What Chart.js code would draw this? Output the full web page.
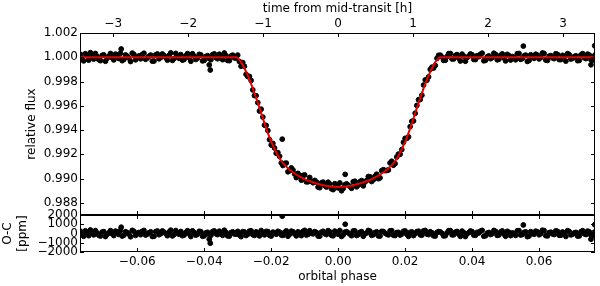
<!DOCTYPE html>
<html>
<head>
<meta charset="utf-8">
<script src="https://cdn.jsdelivr.net/npm/chart.js@4.4.0/dist/chart.umd.min.js"></script>
<style>
    html, body { margin: 0; padding: 0; background: #fff; }
    #wrap { position: relative; width: 600px; height: 286px; }
    #wrap canvas { position: absolute; left: 0; top: 0; }
</style>
</head>
<body>
<div id="wrap">
    <canvas id="lc" width="600" height="286"></canvas>
    <canvas id="oc" width="600" height="286"></canvas>
</div>
<script>
// tick labels
let hourTicks = [-3, -2, -1, 0, 1, 2, 3];
let phaseTicks = [-0.06, -0.04, -0.02, 0, 0.02, 0.04, 0.06];
let fluxTicks = [0.988, 0.990, 0.992, 0.994, 0.996, 0.998, 1.000, 1.002];
let residTicks = [-2000, -1000, 0, 1000, 2000];

// axis limits
let phaseRange = [-0.0771, 0.0767];
let hourRange = [-3.443, 3.426];
let fluxRange = [0.987, 1.002];
let residRange = [-2000, 2000];

// observed points, first run (orbital phase, relative flux, O-C in ppm)
let phase = [
    -0.077, -0.076, -0.075, -0.074, -0.073, -0.072, -0.071, -0.070, -0.069, -0.068,
    -0.067, -0.066, -0.065, -0.064, -0.063, -0.062, -0.061, -0.060, -0.059, -0.058,
    -0.057, -0.056, -0.055, -0.054, -0.053, -0.052, -0.051, -0.050, -0.049, -0.048,
    -0.047, -0.046, -0.045, -0.044, -0.043, -0.042, -0.041, -0.040, -0.039, -0.038,
    -0.037, -0.036, -0.035, -0.034, -0.033, -0.032, -0.031, -0.030, -0.0295, -0.029,
    -0.0285, -0.028, -0.0275, -0.027, -0.0265, -0.026, -0.0255, -0.025, -0.0245, -0.024,
    -0.0235, -0.023, -0.0225, -0.022, -0.0215, -0.021, -0.0205, -0.020, -0.0195, -0.019,
    -0.0185, -0.018, -0.017, -0.016, -0.015, -0.014, -0.013, -0.012, -0.011, -0.010,
    -0.009, -0.008, -0.007, -0.006, -0.005, -0.004, -0.003, -0.002, -0.001, 0.000,
    0.001, 0.002, 0.003, 0.004, 0.005, 0.006, 0.007, 0.008, 0.009, 0.010,
    0.011, 0.012, 0.013, 0.014, 0.015, 0.016, 0.017, 0.018, 0.0185, 0.019,
    0.0195, 0.020, 0.0205, 0.021, 0.0215, 0.022, 0.0225, 0.023, 0.0235, 0.024,
    0.0245, 0.025, 0.0255, 0.026, 0.0265, 0.027, 0.0275, 0.028, 0.0285, 0.029,
    0.0295, 0.030, 0.031, 0.032, 0.033, 0.034, 0.035, 0.036, 0.037, 0.038,
    0.039, 0.040, 0.041, 0.042, 0.043, 0.044, 0.045, 0.046, 0.047, 0.048,
    0.049, 0.050, 0.051, 0.052, 0.053, 0.054, 0.055, 0.056, 0.057, 0.058,
    0.059, 0.060, 0.061, 0.062, 0.063, 0.064, 0.065, 0.066, 0.067, 0.068,
    0.069, 0.070, 0.071, 0.072, 0.073, 0.074, 0.075, 0.076, 0.077
];
let flux = [
    1.00025, 0.99970, 1.00012, 1.00038, 0.99985, 1.00006, 0.99972, 1.00020, 0.99991, 1.00031,
    0.99978, 1.00015, 1.00033, 0.99982, 1.00009, 0.99965, 1.00024, 1.00002, 0.99987, 1.00033,
    0.99994, 1.00018, 0.99969, 1.00027, 0.99998, 1.00014, 0.99976, 1.00036, 0.99989, 1.00005,
    1.00022, 0.99983, 1.00030, 0.99967, 1.00008, 0.99994, 1.00019, 0.99975, 1.00013, 0.99980,
    1.00028, 0.99988, 1.00004, 1.00035, 0.99974, 1.00010, 0.99995, 1.00018, 0.99965, 0.99926,
    0.99956, 0.99926, 0.99859, 0.99841, 0.99842, 0.99809, 0.99731, 0.99684, 0.99683, 0.99626,
    0.99557, 0.99572, 0.99507, 0.99440, 0.99438, 0.99396, 0.99321, 0.99277, 0.99290, 0.99252,
    0.99209, 0.99214, 0.99129, 0.99125, 0.99056, 0.99088, 0.99038, 0.99043, 0.98987, 0.99030,
    0.98974, 0.98977, 0.98985, 0.98930, 0.98965, 0.98942, 0.98970, 0.98916, 0.98958, 0.98923,
    0.98900, 0.98949, 0.98945, 0.98920, 0.98978, 0.98946, 0.98984, 0.98971, 0.99017, 0.98976,
    0.99020, 0.98999, 0.99065, 0.99066, 0.99071, 0.99143, 0.99123, 0.99202, 0.99200, 0.99239,
    0.99299, 0.99332, 0.99331, 0.99344, 0.99428, 0.99472, 0.99475, 0.99539, 0.99603, 0.99650,
    0.99651, 0.99687, 0.99771, 0.99813, 0.99810, 0.99838, 0.99900, 0.99918, 0.99911, 0.99932,
    0.99991, 1.00016, 1.00002, 0.99976, 1.00030, 0.99986, 1.00015, 0.99993, 1.00026, 0.99967,
    1.00009, 1.00020, 0.99981, 1.00005, 1.00034, 0.99975, 1.00011, 0.99998, 1.00023, 0.99984,
    1.00028, 0.99970, 1.00013, 1.00006, 0.99979, 1.00031, 0.99990, 1.00018, 0.99973, 1.00002,
    1.00025, 0.99986, 1.00035, 0.99977, 1.00009, 0.99995, 1.00029, 0.99981, 1.00016, 0.99968,
    1.00021, 0.99992, 1.00012, 0.99974, 1.00030, 0.99989, 1.00018, 0.99976, 1.00027
];
let resid = [
    250, -300, 120, 380, -150, 60, -280, 200, -90, 310,
    -220, 150, 330, -180, 90, -350, 240, 20, -130, 330,
    -60, 180, -310, 270, -20, 140, -240, 360, -110, 50,
    220, -170, 300, -330, 80, -60, 190, -250, 130, -200,
    280, -120, 40, 350, -260, 100, -50, 230, -150, -340,
    200, 160, -220, -90, 260, 290, -120, -210, 180, 10,
    -260, 320, 90, -150, 230, 210, -190, -280, 150, 70,
    -80, 240, -160, 120, -300, 260, -40, 180, -230, 340,
    -100, 30, 200, -270, 150, -20, 310, -190, 260, -80,
    -320, 140, 60, -240, 280, -110, 190, -30, 330, -200,
    100, -260, 230, 40, -150, 300, -220, 120, -170, -60,
    240, 270, -90, -310, 130, 170, -230, -10, 200, 250,
    -140, -180, 280, 330, -60, -120, 190, 80, -250, -280,
    110, 210, 20, -240, 300, -140, 150, -70, 260, -330,
    90, 200, -190, 50, 340, -250, 110, -20, 230, -160,
    280, -300, 130, 60, -210, 310, -100, 180, -270, 20,
    250, -140, 350, -230, 90, -50, 290, -190, 160, -320,
    210, -80, 120, -260, 300, -110, 180, -240, 270
];

// observed points, second run (between the first run's points)
let phase2 = [
    -0.0765, -0.0755, -0.0745, -0.0735, -0.0725, -0.0715, -0.0705, -0.0695, -0.0685, -0.0675,
    -0.0665, -0.0655, -0.0645, -0.0635, -0.0625, -0.0615, -0.0605, -0.0595, -0.0585, -0.0575,
    -0.0565, -0.0555, -0.0545, -0.0535, -0.0525, -0.0515, -0.0505, -0.0495, -0.0485, -0.0475,
    -0.0465, -0.0455, -0.0445, -0.0435, -0.0425, -0.0415, -0.0405, -0.0395, -0.0385, -0.0375,
    -0.0365, -0.0355, -0.0345, -0.0335, -0.0325, -0.0315, -0.0305,
    -0.0175, -0.0165, -0.0155, -0.0145, -0.0135, -0.0125, -0.0115, -0.0105, -0.0095, -0.0085,
    -0.0075, -0.0065, -0.0055, -0.0045, -0.0035, -0.0025, -0.0015, -0.0005,
    0.0005, 0.0015, 0.0025, 0.0035, 0.0045, 0.0055, 0.0065, 0.0075, 0.0085, 0.0095,
    0.0105, 0.0115, 0.0125, 0.0135, 0.0145, 0.0155, 0.0165, 0.0175,
    0.0305, 0.0315, 0.0325, 0.0335, 0.0345, 0.0355, 0.0365, 0.0375, 0.0385, 0.0395,
    0.0405, 0.0415, 0.0425, 0.0435, 0.0445, 0.0455, 0.0465, 0.0475, 0.0485, 0.0495,
    0.0505, 0.0515, 0.0525, 0.0535, 0.0545, 0.0555, 0.0565, 0.0575, 0.0585, 0.0595,
    0.0605, 0.0615, 0.0625, 0.0635, 0.0645, 0.0655, 0.0665, 0.0675, 0.0685, 0.0695,
    0.0705, 0.0715, 0.0725, 0.0735, 0.0745, 0.0755, 0.0765
];
let flux2 = [
    0.99988, 1.00029, 0.99976, 1.00004, 1.00031, 0.99981, 1.00015, 0.99967, 1.00007, 0.99996,
    1.00026, 0.99990, 0.99972, 1.00019, 0.99994, 1.00034, 0.99979, 1.00011, 1.00023, 0.99983,
    1.00008, 0.99968, 1.00020, 0.99987, 1.00027, 0.99999, 1.00016, 0.99974, 1.00032, 0.99991,
    0.99976, 1.00012, 0.99995, 1.00029, 0.99982, 1.00024, 0.99970, 1.00006, 0.99989, 1.00021,
    0.99997, 1.00025, 0.99980, 1.00013, 0.99972, 1.00018, 0.99993,
    0.99183, 0.99108, 0.99128, 0.99065, 0.99071, 0.99008, 0.99024, 0.99026, 0.98973, 0.99009,
    0.98966, 0.98972, 0.98925, 0.98971, 0.98930, 0.98955, 0.98909, 0.98941,
    0.98964, 0.98919, 0.98957, 0.98936, 0.98974, 0.98932, 0.98974, 0.98940, 0.98984, 0.99015,
    0.98990, 0.99036, 0.99006, 0.99073, 0.99067, 0.99129, 0.99110, 0.99178,
    1.00017, 0.99974, 1.00006, 1.00031, 0.99986, 1.00022, 0.99969, 1.00009, 0.99997, 1.00027,
    0.99982, 1.00013, 1.00025, 0.99971, 1.00004, 0.99988, 1.00033, 0.99979, 1.00016, 0.99994,
    1.00024, 0.99977, 1.00001, 1.00029, 0.99983, 1.00011, 0.99966, 1.00020, 0.99991, 1.00018,
    0.99998, 1.00031, 0.99974, 1.00014, 0.99989, 1.00023, 0.99981, 1.00007, 1.00030, 0.99985,
    1.00006, 0.99972, 1.00019, 0.99996, 1.00026, 0.99980, 1.00012
];
let resid2 = [
    -120, 290, -240, 40, 310, -190, 150, -330, 70, -40,
    260, -100, -280, 190, -60, 340, -210, 110, 230, -170,
    80, -320, 200, -130, 270, -10, 160, -260, 320, -90,
    -240, 120, -50, 290, -180, 240, -300, 60, -110, 210,
    -30, 250, -200, 130, -280, 180, -70,
    150, -210, 280, -90, 190, -260, 60, 230, -170, 300,
    -40, 110, -290, 240, -120, 180, -250, 90,
    320, -150, 200, -60, 270, -220, 130, -300, 50, 250,
    -130, 180, -280, 210, -70, 290, -190, 100,
    170, -260, 60, 310, -140, 220, -310, 90, -30, 270,
    -180, 130, 250, -290, 40, -120, 330, -210, 160, -60,
    240, -230, 10, 290, -170, 110, -340, 200, -90, 180,
    -20, 310, -260, 140, -110, 230, -190, 70, 300, -150,
    60, -280, 190, -40, 260, -200, 120
];

// a few stray points
let outPhase = [-0.0648, -0.0385, -0.0382, -0.0167, 0.0021, 0.0553, 0.0755, 0.0766];
let outFlux = [1.00068, 0.99937, 0.99895, 0.99325, 0.99035, 1.00092, 0.99938, 1.00095];
let outResid = [680, -630, -1050, 1870, 1000, 920, -620, 950];

// best-fit transit model
let modelPhase = [
    -0.0771, -0.0302, -0.030, -0.029, -0.028, -0.027, -0.026, -0.025, -0.024, -0.023, -0.022,
    -0.021, -0.020, -0.019, -0.018, -0.017, -0.016, -0.015, -0.014, -0.013, -0.012,
    -0.011, -0.010, -0.009, -0.008, -0.007, -0.006, -0.005, -0.004, -0.003, -0.002,
    -0.001, 0.000, 0.001, 0.002, 0.003, 0.004, 0.005, 0.006, 0.007, 0.008,
    0.009, 0.010, 0.011, 0.012, 0.013, 0.014, 0.015, 0.016, 0.017, 0.018,
    0.019, 0.020, 0.021, 0.022, 0.023, 0.024, 0.025, 0.026, 0.027, 0.028,
    0.029, 0.030, 0.0302, 0.0767
];
let modelFlux = [
    1.00000, 1.00000, 0.99995, 0.99960, 0.99910, 0.99850, 0.99780, 0.99705, 0.99625, 0.99540, 0.99455,
    0.99375, 0.99305, 0.99245, 0.99190, 0.99145, 0.99113, 0.99086, 0.99062, 0.99042, 0.99025,
    0.99010, 0.98996, 0.98984, 0.98974, 0.98965, 0.98957, 0.98950, 0.98944, 0.98939, 0.98935,
    0.98932, 0.98931, 0.98932, 0.98935, 0.98939, 0.98944, 0.98950, 0.98957, 0.98965, 0.98974,
    0.98984, 0.98996, 0.99010, 0.99025, 0.99042, 0.99062, 0.99086, 0.99113, 0.99145, 0.99190,
    0.99245, 0.99305, 0.99375, 0.99455, 0.99540, 0.99625, 0.99705, 0.99780, 0.99850, 0.99910,
    0.99960, 0.99995, 1.00000, 1.00000
];


Chart.defaults.font.family = "'DejaVu Sans', sans-serif";
Chart.defaults.font.size = 12;
Chart.defaults.color = '#000';

let fmt = (v, d) => (v < 0 ? '\u2212' : '') + Math.abs(v).toFixed(d);
let pts = (xs, ys) => xs.map((x, i) => ({ x: x, y: ys[i] }));
let dots = (xs, ys) => ({
    data: pts(xs, ys),
    backgroundColor: '#000',
    borderColor: '#000',
    pointRadius: 2.4,
    pointBorderWidth: 1,
});

// box around the plot area + inward tick marks (matplotlib look)
let frame = {
    id: 'frame',
    afterDraw(chart, args, opts) {
        let ctx = chart.ctx;
        let a = chart.chartArea;
        let len = 4;
        ctx.save();
        ctx.strokeStyle = '#000';
        ctx.lineWidth = 1;
        ctx.strokeRect(a.left + 0.5, a.top + 0.5, a.right - a.left - 1, a.bottom - a.top - 1);
        ctx.beginPath();
        opts.marks.forEach(m => {
            let s = chart.scales[m.axis];
            s.ticks.forEach(t => {
                let p = Math.round(s.getPixelForValue(t.value)) + 0.5;
                m.sides.forEach(side => {
                    if (side == 'left') { ctx.moveTo(a.left, p); ctx.lineTo(a.left + len, p); }
                    if (side == 'right') { ctx.moveTo(a.right, p); ctx.lineTo(a.right - len, p); }
                    if (side == 'top') { ctx.moveTo(p, a.top); ctx.lineTo(p, a.top + len); }
                    if (side == 'bottom') { ctx.moveTo(p, a.bottom); ctx.lineTo(p, a.bottom - len); }
                });
            });
        });
        ctx.stroke();
        ctx.restore();
    }
};

let noGrid = { display: false, drawTicks: false };
let noBorder = { display: false };


// light curve panel
let lcChart = new Chart(document.getElementById('lc'), {
    type: 'scatter',
    data: {
        datasets: [
            {
                data: pts(modelPhase, modelFlux),
                showLine: true,
                borderColor: 'rgb(230, 0, 0)',
                borderWidth: 2,
                pointRadius: 0,
                cubicInterpolationMode: 'monotone',
            },
            dots(phase, flux),
            dots(phase2, flux2),
            dots(outPhase, outFlux),
        ],
    },
    options: {
        responsive: false,
        animation: false,
        devicePixelRatio: 1,
        layout: { padding: { left: 0, right: 4, top: 0, bottom: 71 } },
        plugins: {
            legend: { display: false },
            tooltip: { enabled: false },
            frame: {
                marks: [
                    { axis: 'y', sides: ['left', 'right'] },
                    { axis: 'xh', sides: ['top'] },
                    { axis: 'x', sides: ['bottom'] },
                ],
            },
        },
        scales: {
            x: {
                type: 'linear',
                position: 'bottom',
                min: phaseRange[0],
                max: phaseRange[1],
                grid: noGrid,
                border: noBorder,
                ticks: { display: false },
                afterBuildTicks: s => { s.ticks = phaseTicks.map(v => ({ value: v })); },
                afterFit: s => { s.height = 0; },
            },
            xh: {
                type: 'linear',
                position: 'top',
                min: hourRange[0],
                max: hourRange[1],
                grid: noGrid,
                border: noBorder,
                ticks: { padding: 2, callback: v => fmt(v, 0) },
                afterBuildTicks: s => { s.ticks = hourTicks.map(v => ({ value: v })); },
                afterFit: s => { s.height = 33; },
                title: { display: true, text: 'time from mid-transit [h]', padding: { top: 2, bottom: 0 } },
            },
            y: {
                min: fluxRange[0],
                max: fluxRange[1],
                grid: noGrid,
                border: noBorder,
                ticks: { padding: 2, autoSkip: false, callback: v => fmt(v, 3) },
                afterBuildTicks: s => { s.ticks = fluxTicks.map(v => ({ value: v })); },
                afterFit: s => { s.width = 80; },
                title: { display: true, text: 'relative flux', padding: { top: 25, bottom: 0 } },
            },
        },
    },
    plugins: [frame],
});


// O-C panel
let ocChart = new Chart(document.getElementById('oc'), {
    type: 'scatter',
    data: {
        datasets: [
            dots(phase, resid),
            dots(phase2, resid2),
            dots(outPhase, outResid),
        ],
    },
    options: {
        responsive: false,
        animation: false,
        devicePixelRatio: 1,
        layout: { padding: { left: 0, right: 4, top: 215, bottom: 0 } },
        plugins: {
            legend: { display: false },
            tooltip: { enabled: false },
            frame: {
                marks: [
                    { axis: 'y', sides: ['left', 'right'] },
                    { axis: 'x', sides: ['top', 'bottom'] },
                ],
            },
        },
        scales: {
            x: {
                type: 'linear',
                position: 'bottom',
                min: phaseRange[0],
                max: phaseRange[1],
                grid: noGrid,
                border: noBorder,
                ticks: { padding: 3, callback: v => fmt(v, 2) },
                afterBuildTicks: s => { s.ticks = phaseTicks.map(v => ({ value: v })); },
                afterFit: s => { s.height = 34; },
                title: { display: true, text: 'orbital phase', padding: { top: 0, bottom: 2 } },
            },
            y: {
                min: residRange[0],
                max: residRange[1],
                grid: noGrid,
                border: noBorder,
                ticks: { padding: 2, autoSkip: false, callback: v => fmt(v, 0) },
                afterBuildTicks: s => { s.ticks = residTicks.map(v => ({ value: v })); },
                afterFit: s => { s.width = 80; },
                title: { display: true, text: ['O-C', '[ppm]'], padding: { top: 1, bottom: 0 } },
            },
        },
    },
    plugins: [frame],
});
</script>
</body>
</html>
